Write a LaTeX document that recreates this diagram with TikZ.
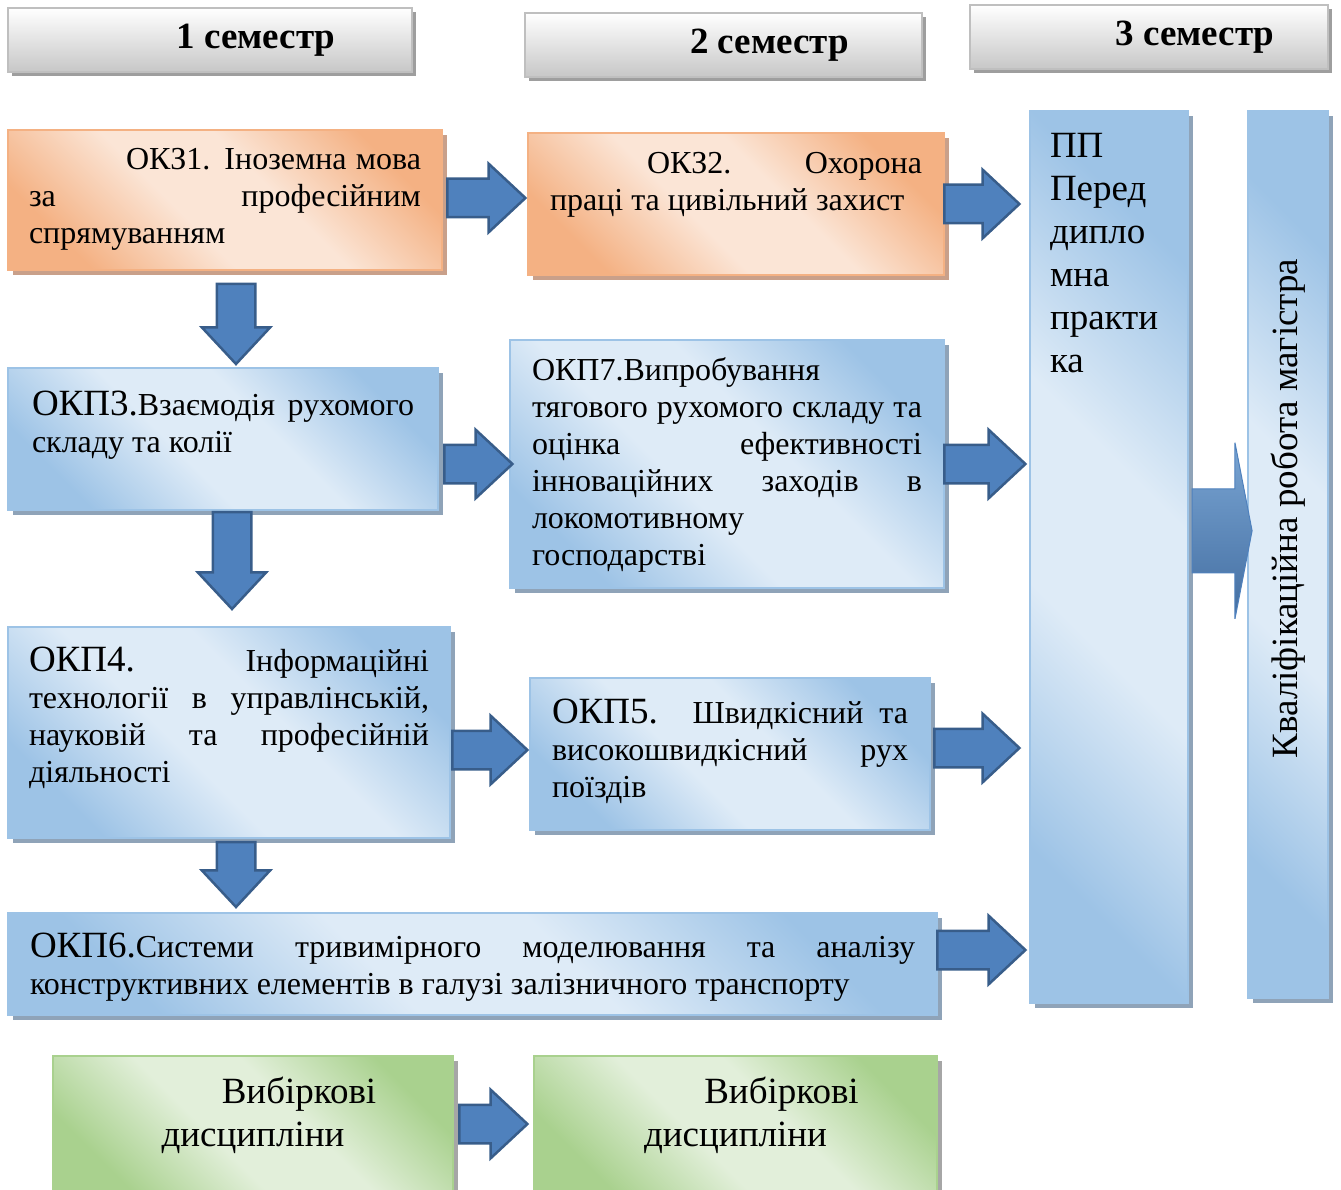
\documentclass[tikz,border=0pt]{standalone}
\usepackage{fontspec}
\setmainfont{Liberation Serif}
\usetikzlibrary{calc,shapes.arrows,shadows}

\definecolor{ordark}{HTML}{F4B183}
\definecolor{orlight}{HTML}{FBE5D6}
\definecolor{orshadow}{HTML}{C9A08A}
\definecolor{bldark}{HTML}{9DC3E6}
\definecolor{bllight}{HTML}{DEEBF7}
\definecolor{blshadow}{HTML}{8FA3B8}
\definecolor{grdark}{HTML}{A9D18E}
\definecolor{grlight}{HTML}{E2EFDA}
\definecolor{grshadow}{HTML}{A6A6A6}
\definecolor{arfill}{HTML}{4F81BD}
\definecolor{arline}{HTML}{385D8A}

\pgfdeclarehorizontalshading{orshade}{100bp}{color(0bp)=(ordark); color(25bp)=(ordark); color(43bp)=(orlight); color(57bp)=(orlight); color(75bp)=(ordark); color(100bp)=(ordark)}
\pgfdeclarehorizontalshading{blshade}{100bp}{color(0bp)=(bldark); color(25bp)=(bldark); color(43bp)=(bllight); color(57bp)=(bllight); color(75bp)=(bldark); color(100bp)=(bldark)}
\pgfdeclarehorizontalshading{grshade}{100bp}{color(0bp)=(grdark); color(25bp)=(grdark); color(43bp)=(grlight); color(57bp)=(grlight); color(75bp)=(grdark); color(100bp)=(grdark)}

\def\lead{\hspace*{92pt}}
\def\ind{\hspace*{97pt}}
\newcommand\bodyfont{\fontsize{32}{37}\selectfont\hyphenpenalty=10000}
\newcommand\bigfont{\fontsize{37}{43}\selectfont}
\newcommand\kod[1]{{\fontsize{37}{37}\selectfont #1}}

\tikzset{
	card/.style={rectangle, inner xsep=21pt, inner ysep=0pt, align=justify, font=\bodyfont, line width=1.5pt},
	orbox/.style={card, draw=ordark, shading=orshade, shading angle=45, drop shadow={shadow xshift=5pt, shadow yshift=-5pt, opacity=1, fill=orshadow}},
	blbox/.style={card, draw=bldark, shading=blshade, shading angle=45, drop shadow={shadow xshift=5pt, shadow yshift=-5pt, opacity=1, fill=blshadow}},
	grbox/.style={card, draw=grdark, shading=grshade, shading angle=45, align=center, font=\bigfont, drop shadow={shadow xshift=5pt, shadow yshift=-5pt, opacity=1, fill=grshadow}},
	hdbox/.style={rectangle, draw=black!25, line width=1.5pt, top color=white, bottom color=black!22, minimum height=64pt, inner sep=0pt, font=\bigfont\bfseries, drop shadow={shadow xshift=4pt, shadow yshift=-4pt, opacity=1, fill=black!38}},
	rarr/.style={single arrow, draw=arline, fill=arfill, line width=2.5pt, inner xsep=0pt, inner ysep=18pt, single arrow head extend=15pt, single arrow tip angle=86, anchor=tip},
	darr/.style={rarr, inner xsep=18pt, inner ysep=0pt, shape border rotate=270, anchor=tail},
}

\begin{document}
\begin{tikzpicture}[x=1pt, y=-1pt]
			%%%%% START %%%%%
			\useasboundingbox (0,0) rectangle (1341,1190);
			
			% semesters
			\node[hdbox, minimum width=404pt] (hd1) at (210,40) {\lead 1 семестр};
			\node[hdbox, minimum width=397pt] (hd2) at (723.5,45) {\lead 2 семестр};
			\node[hdbox, minimum width=358pt] (hd3) at (1149,37) {\lead 3 семестр};
			
			% first column
			\node[orbox, text width=392pt, text height=40pt, text depth=100pt] (ok31) at (225,200)
				{\ind ОКЗ1. Іноземна мова\linebreak за професійним\linebreak спрямуванням};
			\node[blbox, text width=382pt, inner xsep=24pt, text height=47pt, text depth=95pt] (okp3) at (223,439)
				{\kod{ОКП3.}Взаємодія рухомого\linebreak складу та колії};
			\node[blbox, text width=400pt, text height=44pt, text depth=167pt] (okp4) at (229,732.5)
				{\kod{ОКП4.} Інформаційні\linebreak технології в управлінській,\linebreak науковій та професійній\linebreak діяльності};
			\node[blbox, text width=885pt, inner xsep=22pt, text height=44pt, text depth=58pt] (okp6) at (472.5,964)
				{\kod{ОКП6.}Системи тривимірного моделювання та аналізу\linebreak конструктивних елементів в галузі залізничного транспорту};
			
			% second column
			\node[orbox, text width=372pt, inner xsep=22pt, text height=41pt, text depth=101pt] (ok32) at (736,204)
				{\ind ОКЗ2. Охорона\linebreak праці та цивільний захист};
			\node[blbox, text width=390pt, inner xsep=22pt, text height=40pt, text depth=208pt] (okp7) at (727,464)
				{ОКП7.Випробування\\ тягового рухомого складу та\linebreak оцінка ефективності\linebreak інноваційних заходів в\linebreak локомотивному\\ господарстві};
			\node[blbox, text width=356pt, inner xsep=22pt, text height=45pt, text depth=107pt] (okp5) at (730,754)
				{\kod{ОКП5.} Швидкісний та\linebreak високошвидкісний рух\linebreak поїздів};
			
			% electives
			\node[grbox, text width=360pt, inner xsep=20pt, text height=47pt, text depth=89pt] (vb1) at (253,1124)
				{\lead Вибіркові\\ дисципліни};
			\node[grbox, text width=363pt, inner xsep=20pt, text height=47pt, text depth=89pt] (vb2) at (735.5,1124)
				{\lead Вибіркові\\ дисципліни};
			
			% third semester
			\node[blbox, font=\bigfont, align=left, text width=118pt, inner xsep=20pt, text height=47pt, text depth=845pt] (pp) at (1109,557)
				{ПП\\Перед\\дипло\\мна\\практи\\ка};
			\node[blbox, font=\bigfont, minimum width=80pt, minimum height=887pt, inner sep=0pt] (kr) at (1288,554.5)
				{\rotatebox{90}{\lead Кваліфікаційна робота магістра}};
			
			% arrows
			\node[rarr, minimum height=78pt] (a1) at ([yshift=6pt]ok32.west) {};
			\node[rarr, minimum height=68pt] (a2) at ([xshift=5pt]okp7.west) {};
			\node[rarr, minimum height=75pt] (a3) at ([yshift=4pt]okp5.west) {};
			\node[rarr, minimum height=68pt] (a4) at ([xshift=-4pt]vb2.west) {};
			
			\node[rarr, minimum height=75pt] (p1) at ([xshift=-8pt]ok32.east -| pp.west) {};
			\node[rarr, minimum height=81pt] (p2) at ([xshift=-2pt]okp7.east -| pp.west) {};
			\node[rarr, minimum height=85pt] (p3) at ([xshift=-8pt,yshift=6pt]okp5.east -| pp.west) {};
			\node[rarr, minimum height=88pt] (p4) at ([xshift=-2pt,yshift=14pt]okp6.east -| pp.west) {};
			
			\node[darr, minimum height=80pt] (d1) at ([xshift=11pt,yshift=-12pt]ok31.south) {};
			\node[darr, minimum height=97pt] (d2) at ([xshift=9pt]okp3.south) {};
			\node[darr, minimum height=65pt] (d3) at ([xshift=7pt,yshift=-2pt]okp4.south) {};
			
			\node[single arrow, minimum height=60pt, inner xsep=0pt, inner ysep=41.5pt, single arrow head extend=46pt, single arrow tip angle=158, top color=bldark!55!arfill, bottom color=arfill!85!black, draw=arfill, line width=1pt] (big) at ([yshift=25pt]$(pp.east)!.5!(kr.west)$) {};
			
			%%%%% END %%%%%
\end{tikzpicture}
\end{document}
